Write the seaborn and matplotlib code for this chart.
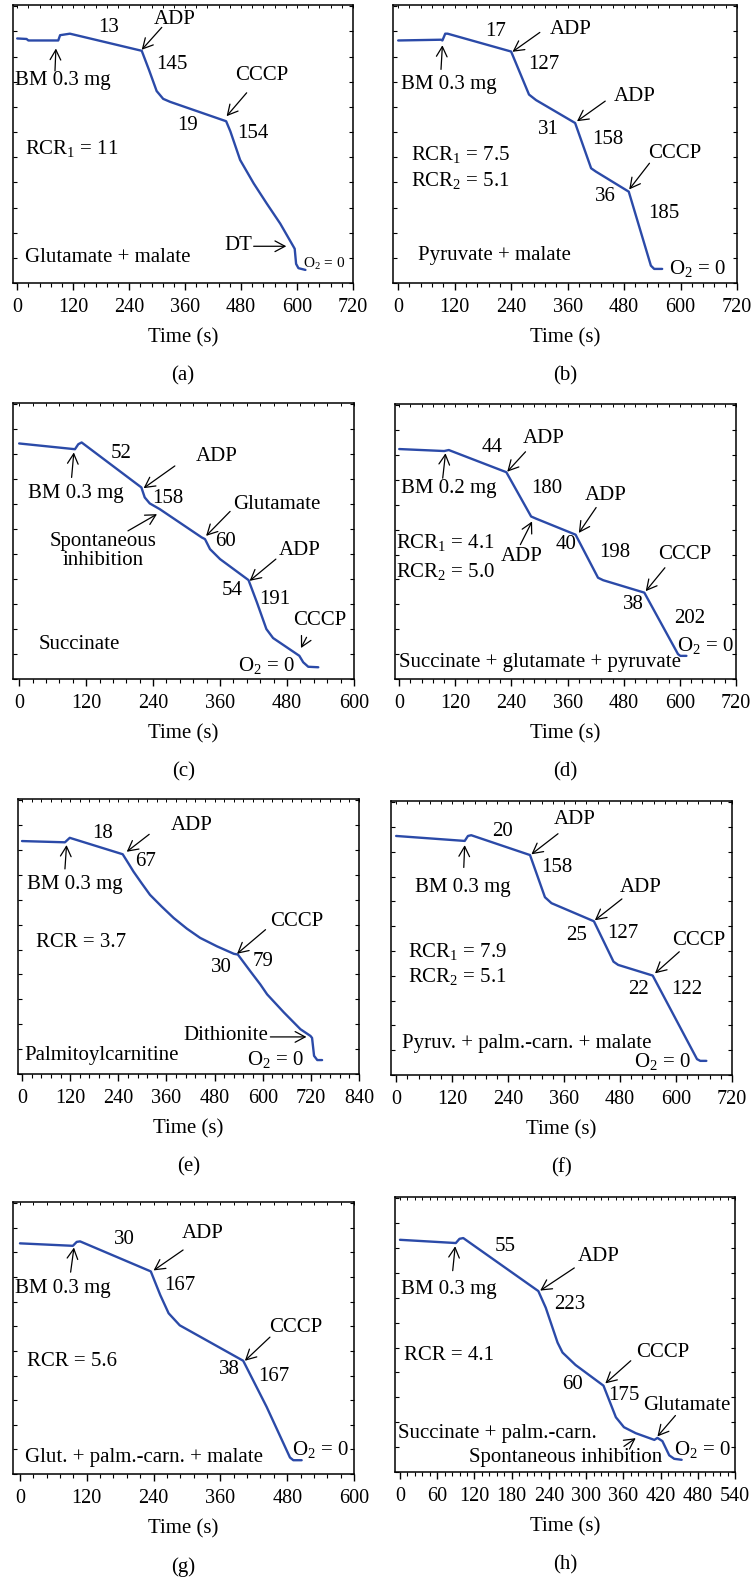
import numpy as np
import pandas as pd
import matplotlib
matplotlib.use('Agg')
import matplotlib.pyplot as plt
import seaborn as sns
from matplotlib.ticker import MultipleLocator

sns.set_theme(style='white')
plt.rcParams['font.family'] = ['Liberation Serif', 'DejaVu Serif']
plt.rcParams['mathtext.fontset'] = 'custom'
plt.rcParams['mathtext.rm'] = 'Liberation Serif'
plt.rcParams['mathtext.it'] = 'Liberation Serif:italic'
plt.rcParams['mathtext.bf'] = 'Liberation Serif:bold'

# ---------------- data: time (s) and O2 signal (arbitrary %) ----------------
t_a = [0, 20, 24, 88, 92, 113, 267, 283, 299, 313, 328, 448, 457, 478, 507, 535, 564, 591, 595, 598, 603, 618]
o2_a = [87.2, 87.0, 86.4, 86.4, 88.5, 89.1, 82.3, 74.5, 66.3, 63.2, 62.0, 54.3, 50.3, 38.9, 29.6, 21.6, 13.6, 4.9, 3.6, -2.4, -4.1, -4.8]

t_b = [0, 91, 94, 100, 105, 240, 278, 293, 376, 410, 420, 490, 537, 544, 561]
o2_b = [86.4, 86.7, 86.4, 89.1, 89.1, 82.0, 64.9, 62.7, 53.6, 35.6, 34.3, 26.3, -3.1, -4.4, -4.4]

t_c = [0, 100, 106, 112, 219, 225, 234, 252, 327, 333, 342, 360, 411, 426, 443, 455, 502, 509, 518, 536]
o2_c = [84.3, 82.0, 84.0, 84.7, 66.7, 62.7, 60.3, 58.0, 46.7, 46.0, 42.0, 38.0, 29.6, 20.7, 10.0, 6.4, -0.7, -3.3, -5.1, -5.3]

t_d = [0, 96, 106, 229, 282, 293, 377, 425, 436, 524, 596, 601, 614]
o2_d = [82.4, 81.6, 82.0, 73.1, 55.3, 54.4, 48.0, 30.7, 29.7, 24.7, 0.0, -0.7, -0.7]

t_e = [0, 107, 119, 251, 265, 278, 298, 319, 348, 378, 411, 444, 486, 528, 538, 569, 594, 611, 653, 694, 719, 723, 728, 736, 748]
o2_e = [83.6, 83.1, 84.9, 78.3, 74.7, 71.3, 66.7, 62.0, 57.3, 52.7, 48.4, 44.7, 41.3, 38.3, 38.0, 31.3, 26.0, 22.0, 14.7, 8.0, 5.3, 4.5, -2.7, -4.4, -4.4]

t_f = [0, 147, 154, 161, 287, 319, 333, 424, 466, 476, 550, 645, 652, 665]
o2_f = [86.4, 84.4, 86.4, 86.7, 78.7, 61.7, 59.3, 52.0, 35.7, 34.4, 30.1, -3.6, -4.3, -4.3]

t_g = [0, 95, 102, 108, 235, 252, 267, 287, 401, 443, 485, 491, 506]
o2_g = [83.7, 82.7, 84.3, 84.5, 72.3, 62.7, 55.3, 50.4, 36.0, 17.3, -3.3, -4.4, -4.4]

t_h = [0, 90, 96, 102, 223, 235, 254, 262, 283, 328, 348, 361, 380, 410, 415, 423, 434, 442, 454]
o2_h = [83.3, 82.0, 83.7, 84.0, 62.7, 56.0, 42.0, 38.0, 33.0, 24.7, 12.0, 8.0, 5.6, 2.9, 3.7, 2.4, -3.3, -4.7, -5.1]

panel_labels = ['(a)', '(b)', '(c)', '(d)', '(e)', '(f)', '(g)', '(h)']
x_max = [720, 720, 600, 720, 840, 720, 600, 540]
x_major = [120, 120, 120, 120, 120, 120, 120, 60]
x_label = 'Time (s)'

O2Z = r'O$_\mathregular{2}$ = 0'

# annotations: (text, x, y)
texts_a = [('13', 197, 91.6), ('ADP', 338, 94.9), ('145', 331, 76.9), ('BM 0.3 mg', 97, 70.3),
           ('CCCP', 525, 72.3), ('19', 365, 52.5), ('154', 505, 49.6),
           (r'RCR$_\mathregular{1}$ = 11', 117, 43.3), ('Glutamate + malate', 195, 0.3), ('DT', 474, 4.9)]
small_a = [(O2Z, 659, -2.4)]
arrows_a = [(310, 91.6, 267, 82.7), (81, 74.3, 83, 83.2), (492, 65.6, 449, 56.3), (507, 4.6, 577, 4.6)]

texts_b = [('17', 206, 89.9), ('ADP', 367, 90.9), ('127', 310, 76.9), ('BM 0.3 mg', 108, 68.9),
           ('ADP', 502, 64.3), ('31', 320, 51.2), ('158', 446, 47.2), ('CCCP', 587, 41.3),
           ('36', 440, 24.5), ('185', 565, 17.6), (r'RCR$_\mathregular{1}$ = 7.5', 133, 40.9),
           (r'RCR$_\mathregular{2}$ = 5.1', 133, 30.9), ('Pyruvate + malate', 204, 0.9), (O2Z, 636, -4.4)]
small_b = []
arrows_b = [(301, 89.6, 243, 81.9), (91, 74.9, 94, 84.5), (440, 62.3, 380, 54.3), (534, 37.6, 491, 27.2)]

texts_c = [('52', 183, 80.3), ('ADP', 354, 78.9), ('158', 267, 62.4), ('BM 0.3 mg', 102, 64.3),
           ('Spontaneous\ninhibition', 151, 41.3), ('Glutamate', 462, 60.0), ('60', 370, 45.1),
           ('ADP', 503, 41.3), ('54', 381, 25.3), ('191', 458, 22.0), ('CCCP', 538, 13.6),
           ('Succinate', 108, 3.7), (O2Z, 443, -4.7)]
small_c = []
arrows_c = [(279, 75.3, 223, 66.4), (94, 70.7, 98, 80.7), (195, 49.3, 247, 56.0), (378, 57.1, 335, 47.3),
            (460, 38.0, 413, 29.3), (515, 6.7, 505, 2.4)]

texts_d = [('44', 199, 82.9), ('ADP', 309, 86.7), ('BM 0.2 mg', 106, 66.4), ('180', 316, 66.4),
           ('ADP', 441, 63.7), ('ADP', 263, 39.3), ('40', 356, 44.0), ('198', 461, 40.7),
           (r'RCR$_\mathregular{1}$ = 4.1', 99, 44.7), (r'RCR$_\mathregular{2}$ = 5.0', 99, 33.3),
           ('CCCP', 611, 40.0), ('38', 500, 20.0), ('202', 620, 14.4), (O2Z, 654, 3.3),
           ('Succinate + glutamate + pyruvate', 300, -3.3)]
small_d = []
arrows_d = [(270, 81.3, 231, 73.3), (93, 70.7, 99, 80.7), (421, 58.9, 384, 48.7), (259, 44.0, 284, 53.3),
            (568, 34.7, 527, 25.3)]

texts_e = [('18', 201, 86.7), ('ADP', 423, 90.0), ('67', 309, 75.3), ('BM 0.3 mg', 132, 66.0),
           ('CCCP', 686, 51.3), ('30', 496, 32.7), ('79', 602, 35.3), ('RCR = 3.7', 148, 42.7),
           ('Dithionite', 507, 5.3), ('Palmitoylcarnitine', 198, -2.7), (O2Z, 632, -4.0)]
small_e = []
arrows_e = [(317, 86.3, 261, 79.3), (107, 72.4, 111, 82.0), (607, 48.0, 536, 38.3), (619, 4.9, 709, 4.9)]

texts_f = [('20', 228, 88.0), ('ADP', 383, 93.0), ('158', 344, 73.7), ('BM 0.3 mg', 142, 65.7),
           ('ADP', 524, 65.7), ('25', 387, 46.4), ('127', 486, 47.0), ('CCCP', 648, 44.4),
           ('22', 519, 24.4), ('122', 622, 24.4), (r'RCR$_\mathregular{1}$ = 7.9', 132, 39.7),
           (r'RCR$_\mathregular{2}$ = 5.1', 132, 29.7), ('Pyruv. + palm.-carn. + malate', 279, 2.7),
           (O2Z, 571, -4.5)]
small_f = []
arrows_f = [(347, 87.3, 290, 79.0), (145, 73.7, 147, 82.7), (484, 61.0, 426, 52.4), (607, 39.7, 555, 31.0)]

texts_g = [('30', 187, 85.3), ('ADP', 329, 87.7), ('167', 287, 66.4), ('BM 0.3 mg', 77, 65.3),
           ('CCCP', 496, 49.6), ('38', 377, 32.4), ('167', 456, 29.6), ('RCR = 5.6', 93, 35.6),
           ('Glut. + palm.-carn. + malate', 222, -3.3), (O2Z, 539, 0.0)]
small_g = []
arrows_g = [(293, 81.0, 240, 72.7), (91, 72.0, 97, 82.0), (449, 45.6, 404, 36.0)]

texts_h = [('55', 170, 80.7), ('ADP', 320, 76.7), ('223', 274, 57.3), ('BM 0.3 mg', 79, 63.3),
           ('RCR = 4.1', 79, 37.0), ('CCCP', 423, 38.0), ('60', 278, 25.0), ('175', 361, 20.7),
           ('Glutamate', 463, 16.7), ('Succinate + palm.-carn.', 157, 5.3),
           ('Spontaneous inhibition', 267, -4.0), (O2Z, 487, -1.1)]
small_h = []
arrows_h = [(281, 72.0, 226, 62.9), (85, 70.9, 89, 80.7), (372, 34.7, 331, 25.6), (444, 12.7, 415, 4.3),
            (361, 0.3, 380, 3.6)]

times = [t_a, t_b, t_c, t_d, t_e, t_f, t_g, t_h]
o2s = [o2_a, o2_b, o2_c, o2_d, o2_e, o2_f, o2_g, o2_h]
texts = [texts_a, texts_b, texts_c, texts_d, texts_e, texts_f, texts_g, texts_h]
smalls = [small_a, small_b, small_c, small_d, small_e, small_f, small_g, small_h]
arrows = [arrows_a, arrows_b, arrows_c, arrows_d, arrows_e, arrows_f, arrows_g, arrows_h]

# ---------------- layout (pixel boxes: left, right, top, bottom) ----------------
W, H = 752, 1579
boxes = [(13, 353, 5, 283), (393, 737, 5, 283),
         (13, 354, 403, 679), (395, 736, 404, 679),
         (18, 359, 799, 1074), (391, 732, 801, 1075),
         (13, 354, 1202, 1474), (395, 735, 1197, 1472)]
x_left = [-9, -11, -11, -9, -10, -11, -12.5, -8]

LINE = '#2b4aa8'
FS = 15

fig = plt.figure(figsize=(W / 100, H / 100), dpi=100)
fig.patch.set_facecolor('white')

for i in range(8):
    L, R, T, B = boxes[i]
    ax = fig.add_axes([L / W, 1 - B / H, (R - L) / W, (B - T) / H])
    ax.set_facecolor('white')
    df = pd.DataFrame({'t': times[i], 'o2': o2s[i]})
    sns.lineplot(data=df, x='t', y='o2', ax=ax, color=LINE, linewidth=1.7,
                 estimator=None, sort=False)
    ax.set_xlim(x_left[i], x_max[i])
    ax.set_ylim(-10, 100.5)
    ax.xaxis.set_major_locator(MultipleLocator(x_major[i]))
    ax.xaxis.set_minor_locator(MultipleLocator(x_major[i] / 5))
    ax.yaxis.set_major_locator(MultipleLocator(10))
    ax.tick_params(axis='x', which='major', direction='out', length=5, width=1.0,
                   color='black', labelsize=14.5, pad=6, bottom=True)
    ax.tick_params(axis='x', which='minor', direction='out', length=3, width=0.8,
                   color='black', bottom=True)
    ax.tick_params(axis='y', which='major', direction='in', length=3, width=0.8,
                   color='black', left=True, right=True, labelleft=False)
    sec = ax.secondary_xaxis('top')
    sec.xaxis.set_major_locator(MultipleLocator(x_major[i] / 5))
    sec.tick_params(axis='x', which='major', direction='in', length=2.5, width=0.7,
                    color='black', labeltop=False)
    sec.spines['top'].set_visible(False)
    for sp in ax.spines.values():
        sp.set_visible(True)
        sp.set_color('black')
        sp.set_linewidth(1.1)
    ax.set_xlabel(x_label, fontsize=15, labelpad=8, color='black')
    ax.set_ylabel('')
    for lab in ax.get_xticklabels():
        lab.set_color('black')
    for (s, x, y) in texts[i]:
        ax.text(x, y, s, ha='center', va='center', fontsize=FS, color='black',
                linespacing=1.0)
    for (s, x, y) in smalls[i]:
        ax.text(x, y, s, ha='center', va='center', fontsize=11, color='black')
    for (x0, y0, x1, y1) in arrows[i]:
        ax.annotate('', xy=(x1, y1), xytext=(x0, y0),
                    arrowprops=dict(arrowstyle='->,head_length=0.6,head_width=0.32',
                                    lw=0.9, color='black', shrinkA=0, shrinkB=0))
    fig.text(((L + R) / 2) / W, 1 - (B + 93) / H, panel_labels[i], ha='center', va='center',
             fontsize=15, color='black')

fig.savefig('out.png', dpi=100, facecolor='white')
